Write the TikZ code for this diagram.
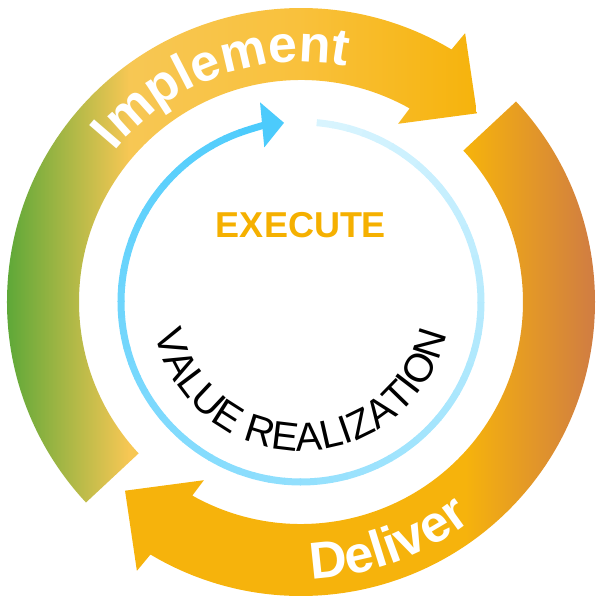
\documentclass[tikz,border=0pt]{standalone}
\usepackage{fontspec}
\newfontfamily\arialfont{Liberation Sans}
\usetikzlibrary{arrows.meta, decorations.text, calc, positioning}
\definecolor{implgreen}{RGB}{94,168,56}
\definecolor{impllight}{RGB}{247,199,84}
\definecolor{implmid}{RGB}{249,193,60}
\definecolor{ringorange}{RGB}{246,179,12}
\definecolor{delivbrown}{RGB}{207,123,68}
\definecolor{valuelight}{RGB}{216,244,254}
\definecolor{valuedark}{RGB}{76,203,252}
\definecolor{executeorange}{RGB}{245,176,0}
\pgfdeclarehorizontalshading{implshade}{100bp}{color(0bp)=(implgreen); color(25bp)=(implgreen); color(38bp)=(impllight); color(56bp)=(implmid); color(75bp)=(ringorange); color(100bp)=(ringorange)}
\pgfdeclarehorizontalshading{delivshade}{100bp}{color(0bp)=(ringorange); color(61bp)=(ringorange); color(75bp)=(delivbrown); color(100bp)=(delivbrown)}
\newcommand{\ringfont}{\arialfont\bfseries\fontsize{52}{52}\selectfont\color{white}}
\newcommand{\valuefont}{\arialfont\fontsize{40}{40}\selectfont\color{black}}
\tikzset{
    ringlabel/.style 2 args={
        decorate,
        decoration={text along path, text align=center, text={|#1|#2}}
    },
    valuering/.style={line width=7pt},
    executetext/.style={font=\arialfont\bfseries\fontsize{36}{36}\selectfont, text=executeorange, inner sep=0pt}
}
\begin{document}
\begin{tikzpicture}[x=1pt, y=1pt]
    \def \Rout {294}
    \def \Rin {222}
    \def \Rv {180}
    \useasboundingbox (-301,-298) rectangle (299,302);
    % implement arrow
    \begin{scope}
    \clip (223:\Rout) arc[start angle=223, end angle=59.2, radius=\Rout]
        -- (58.6:315) -- (47:258) -- (61.4:203) -- (60.7:\Rin)
        arc[start angle=60.7, end angle=223, radius=\Rin] -- cycle;
    \shade[shading=implshade] (-294,-300) rectangle (176,300);
    \end{scope}
    % deliver arrow
    \begin{scope}
    \clip (43:\Rout) arc[start angle=43, end angle=-120.8, radius=\Rout]
        -- (238.6:315) -- (227:258) -- (241.4:203) -- (-119.3:\Rin)
        arc[start angle=-119.3, end angle=43, radius=\Rin] -- cycle;
    \shade[shading=delivshade] (-177,-300) rectangle (297,300);
    \end{scope}
    % value ring
    \foreach \i in {0,...,66}{
        \pgfmathtruncatemacro\shadepct{100*\i/69}
        \draw[valuering, valuedark!\shadepct!valuelight] (85-5*\i:\Rv) arc[start angle=85-5*\i, end angle=85-5*\i-5.4, radius=\Rv];
    }
    \draw[valuering, valuedark, -{Triangle[length=22pt, width=44pt]}] (-250:\Rv) arc[start angle=-250, end angle=-264.6, radius=\Rv];
    \node[executetext] (execute) at (0,76.5) {EXECUTE};
    \path[ringlabel={\ringfont}{Implement}] (165:240) arc[start angle=165, end angle=55, radius=240];
    \path[ringlabel={\ringfont}{Deliver}] (-120:277) arc[start angle=-120, end angle=-20, radius=277];
    \path[ringlabel={\valuefont}{VALUE REALIZATION}] (170:149) arc[start angle=170, end angle=370, radius=149];
\end{tikzpicture}
\end{document}
